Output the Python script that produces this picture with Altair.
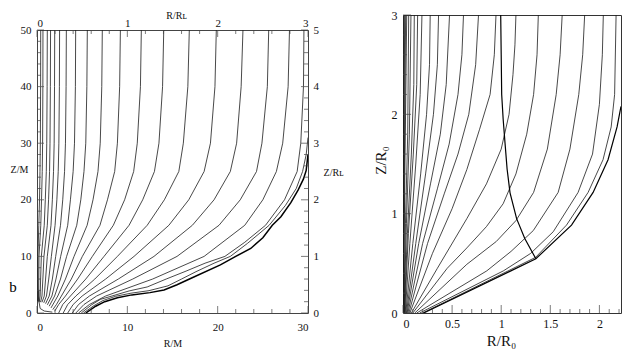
import altair as alt
import pandas as pd

FONT = "Liberation Serif"
INK = "#1a1a1a"
AXC = "#444444"
H = 298            # plot height of the right panel (and of the left group)
LEFT_PLOT_H = 283  # visible plot height of the left panel
TOP_GAP = H - LEFT_PLOT_H

# ---------------- left panel (b): field lines, R/M and Z/M ----------------
left_z_levels = [50, 40, 30, 25, 20, 15.5, 10, 6, 3]

line_a_r = [27.95, 27.8, 27.2, 26.5, 25.0, 23.0, 18.5, 12.8, 7.6]
line_a_tail = [(5.8, 1.5), (4.6, 0)]
line_b_r = [25.65, 25.5, 24.9, 24.3, 22.5, 20.15, 15.5, 10.6, 6.6]
line_b_tail = [(5.2, 1.5), (4.3, 0)]
line_c_r = [22.8, 22.6, 22.1, 21.4, 19.6, 17.2, 12.95, 9.0, 5.8]
line_c_tail = [(4.6, 1.5), (3.9, 0)]
line_d_r = [19.85, 19.7, 19.2, 18.5, 16.8, 14.6, 10.74, 7.6, 5.0]
line_d_tail = [(4.0, 1.5), (3.4, 0)]
line_e_r = [16.86, 16.7, 16.2, 15.7, 14.1, 12.2, 8.9, 6.4, 4.3]
line_e_tail = [(3.4, 1.5), (2.9, 0)]
line_f_r = [14.03, 13.9, 13.5, 13.0, 11.7, 10.19, 7.42, 5.4, 3.7]
line_f_tail = [(2.85, 1.5), (2.4, 0)]
line_g_r = [11.55, 11.45, 11.1, 10.7, 9.7, 8.45, 6.13, 4.5, 3.15]
line_g_tail = [(2.4, 1.5), (1.95, 0.3)]
line_h_r = [9.23, 9.15, 8.9, 8.6, 7.8, 6.97, 5.02, 3.8, 2.7]
line_h_tail = [(2.15, 1.5), (1.75, 0.6)]
line_i_r = [7.23, 7.17, 7.0, 6.75, 6.2, 5.55, 4.1, 3.15, 2.3]
line_i_tail = [(1.55, 0.9)]
line_j_r = [5.57, 5.52, 5.4, 5.2, 4.85, 4.4, 3.28, 2.6, 1.95]
line_j_tail = [(1.35, 1.2)]
line_k_r = [4.28, 4.25, 4.15, 4.0, 3.7, 3.4, 2.62, 2.1, 1.65]
line_k_tail = [(1.15, 1.45)]
line_l_r = [3.25, 3.22, 3.15, 3.05, 2.85, 2.6, 2.07, 1.7, 1.35]
line_l_tail = [(0.95, 1.65)]
line_m_r = [2.5, 2.48, 2.42, 2.35, 2.2, 2.0, 1.59, 1.3, 1.05]
line_m_tail = [(0.75, 1.8)]
line_n_r = [1.96, 1.94, 1.9, 1.83, 1.7, 1.55, 1.14, 0.95, 0.8]
line_n_tail = [(0.55, 1.9)]
line_o_r = [1.5, 1.48, 1.44, 1.39, 1.28, 1.14, 0.77, 0.65, 0.55]
line_o_tail = [(0.4, 1.95)]
line_p_r = [1.14, 1.12, 1.08, 1.03, 0.92, 0.8, 0.48, 0.4, 0.35]
line_p_tail = [(0.25, 2.0)]
line_q_r = [0.66, 0.65, 0.62, 0.58, 0.5, 0.42, 0.22, 0.2, 0.18]
line_q_tail = [(0.15, 2.05)]
line_s_r = [0.41, 0.4, 0.37, 0.33, 0.28, 0.2, 0.1, 0.1, 0.09]
line_s_tail = [(0.08, 2.1)]

near_bound_2 = [(4.9, 0), (6.0, 1.4), (7.0, 2.4), (8.3, 3.0), (10.2, 3.9), (12.2, 4.6),
                (14.3, 6.0), (16.5, 7.4), (18.6, 8.8), (20.8, 10), (23.0, 12.5), (25.3, 15.5),
                (27.4, 20), (28.8, 25), (29.2, 30), (29.5, 40), (29.55, 50)]
near_bound_1 = [(5.15, 0), (6.3, 1.3), (7.3, 2.2), (8.7, 2.95), (10.4, 3.5), (12.4, 3.95),
                (14.5, 4.8), (16.0, 6.0), (17.6, 7.3), (19.6, 8.8), (21.4, 10), (23.3, 12.3),
                (25.7, 15.5), (27.5, 19), (28.7, 22), (29.4, 25), (29.8, 28), (30, 31)]
outer_bound = [(5.4, 0), (6.5, 1.2), (7.5, 2.0), (8.9, 2.7), (10.5, 3.2), (12.5, 3.6),
               (14.06, 4.06), (15.5, 5.0), (17, 6.1), (20.3, 8.5), (22, 10), (23.66, 11.4),
               (25, 13.3), (26.05, 15.5), (27, 17), (28.1, 19.5), (28.9, 21.7), (29.5, 23.7),
               (29.8, 25.2), (30, 28)]
horizon = [(0.2, 4.0), (0.22, 2.0), (0.35, 0.8), (0.8, 0.35), (1.7, 0.15)]

left_regular = [
    ("a", line_a_r, line_a_tail), ("b", line_b_r, line_b_tail), ("c", line_c_r, line_c_tail),
    ("d", line_d_r, line_d_tail), ("e", line_e_r, line_e_tail), ("f", line_f_r, line_f_tail),
    ("g", line_g_r, line_g_tail), ("h", line_h_r, line_h_tail), ("i", line_i_r, line_i_tail),
    ("j", line_j_r, line_j_tail), ("k", line_k_r, line_k_tail), ("l", line_l_r, line_l_tail),
    ("m", line_m_r, line_m_tail), ("n", line_n_r, line_n_tail), ("o", line_o_r, line_o_tail),
    ("p", line_p_r, line_p_tail), ("q", line_q_r, line_q_tail), ("s", line_s_r, line_s_tail),
]

left_x_major = [0, 10, 20, 30]
left_x_minor = [2, 4, 6, 8, 12, 14, 16, 18, 22, 24, 26, 28]
left_y_major = [0, 10, 20, 30, 40, 50]
left_y_minor = [2, 4, 6, 8, 12, 14, 16, 18, 22, 24, 26, 28, 32, 34, 36, 38, 42, 44, 46, 48]

# ---------------- right panel: field lines, R/R0 and Z/R0 ----------------
r_line_01 = [(0.20, 0), (1.35, 0.56), (1.665, 0.885), (1.885, 1.214), (2.037, 1.543), (2.12, 1.873), (2.155, 2.2), (2.17, 3.0)]
r_bound = [(0.21, 0), (1.353, 0.546), (1.716, 0.885), (1.936, 1.214), (2.088, 1.543), (2.18, 1.873), (2.22, 2.08)]
r_line_03 = [(0.17, 0), (1.022, 0.424), (1.30, 0.6), (1.53, 0.818), (1.783, 1.214), (1.93, 1.6), (2.0, 2.1), (2.03, 2.6), (2.04, 3.0)]
r_line_04 = [(0.14, 0), (0.853, 0.424), (1.10, 0.62), (1.327, 0.83), (1.58, 1.214), (1.70, 1.65), (1.79, 2.2), (1.83, 2.6), (1.85, 3.0)]
r_line_05 = [(0.12, 0), (0.65, 0.49), (0.95, 0.72), (1.15, 0.93), (1.33, 1.214), (1.47, 1.65), (1.56, 2.2), (1.60, 2.6), (1.621, 3.0)]
r_line_06 = [(0.10, 0), (0.45, 0.45), (0.65, 0.655), (0.85, 0.87), (1.02, 1.1), (1.15, 1.4), (1.26, 1.8), (1.33, 2.2), (1.365, 2.6), (1.378, 3.0)]
r_line_07 = [(0.085, 0), (0.35, 0.45), (0.65, 0.95), (0.85, 1.3), (1.0, 1.65), (1.08, 2.0), (1.12, 2.4), (1.14, 2.7), (1.15, 3.0)]
r_line_08 = [(0.07, 0), (0.3, 0.6), (0.5, 1.05), (0.65, 1.444), (0.78, 1.85), (0.887, 2.2), (0.93, 2.6), (0.947, 3.0)]
r_line_09 = [(0.06, 0), (0.25, 0.7), (0.42, 1.2), (0.56, 1.6), (0.67, 2.0), (0.74, 2.5), (0.769, 3.0)]
r_line_10 = [(0.05, 0), (0.2, 0.7), (0.35, 1.25), (0.47, 1.7), (0.56, 2.2), (0.6, 2.6), (0.616, 3.0)]
r_line_11 = [(0.042, 0), (0.16, 0.7), (0.28, 1.3), (0.38, 1.8), (0.44, 2.3), (0.474, 3.0)]
r_line_12 = [(0.035, 0), (0.13, 0.7), (0.23, 1.4), (0.31, 2.0), (0.35, 2.5), (0.362, 3.0)]
r_line_13 = [(0.028, 0), (0.1, 0.7), (0.18, 1.4), (0.24, 2.0), (0.27, 2.5), (0.277, 3.0)]
r_line_14 = [(0.022, 0), (0.07, 0.7), (0.13, 1.5), (0.175, 2.2), (0.193, 3.0)]
r_line_15 = [(0.017, 0), (0.055, 0.8), (0.105, 1.6), (0.14, 2.3), (0.149, 3.0)]
r_line_16 = [(0.013, 0), (0.045, 0.8), (0.085, 1.6), (0.11, 2.3), (0.115, 3.0)]
r_line_17 = [(0.01, 0), (0.035, 0.9), (0.065, 1.8), (0.081, 3.0)]
r_line_18 = [(0.008, 0), (0.025, 0.9), (0.048, 1.8), (0.058, 3.0)]
r_axis_1 = [(0.005, 0), (0.02, 1.5), (0.038, 3.0)]
r_axis_2 = [(0.004, 0), (0.014, 1.5), (0.027, 3.0)]
r_axis_3 = [(0.003, 0), (0.009, 1.5), (0.017, 3.0)]
r_axis_4 = [(0.002, 0), (0.005, 1.5), (0.009, 3.0)]
r_light_surface = [(0.995, 3.0), (1.0, 2.6), (1.005, 2.2), (1.02, 1.95), (1.039, 1.71), (1.06, 1.45),
                   (1.09, 1.21), (1.157, 0.95), (1.24, 0.75), (1.353, 0.546)]

right_x_major = [0, 0.5, 1, 1.5, 2]
right_x_minor = [0.1, 0.2, 0.3, 0.4, 0.6, 0.7, 0.8, 0.9, 1.1, 1.2, 1.3, 1.4, 1.6, 1.7, 1.8, 1.9, 2.1, 2.2]
right_y_major = [0, 1, 2, 3]
right_y_minor = [0.2, 0.4, 0.6, 0.8, 1.2, 1.4, 1.6, 1.8, 2.2, 2.4, 2.6, 2.8]


def frame(named):
    rows = []
    for name, pts in named:
        for i, (r, z) in enumerate(pts):
            rows.append({"line": name, "o": i, "R": r, "Z": z})
    return pd.DataFrame(rows)


left_thin_named = []
for name, rs, tail in left_regular:
    left_thin_named.append((name, list(zip(rs, left_z_levels)) + tail))
left_thin_named += [("nb2", near_bound_2), ("nb1", near_bound_1), ("hz", horizon)]
left_thick_named = [("bound", outer_bound)]

right_thin_named = [(f"r{i}", pts) for i, pts in enumerate([
    r_line_01, r_line_03, r_line_04, r_line_05, r_line_06, r_line_07, r_line_08, r_line_09,
    r_line_10, r_line_11, r_line_12, r_line_13, r_line_14, r_line_15, r_line_16, r_line_17,
    r_line_18, r_axis_1, r_axis_2, r_axis_3, r_axis_4])]
right_thick_named = [("bound", r_bound), ("lc", r_light_surface)]

# ---------------- scales ----------------
xl = alt.Scale(domain=[0, 30], nice=False, zero=False)
yl = alt.Scale(domain=[0, 50], nice=False, zero=False, range=[H, TOP_GAP])
xr = alt.Scale(domain=[0, 2.22], nice=False, zero=False)
yr = alt.Scale(domain=[0, 3], nice=False, zero=False)


def xticks(vals, ydat, size, off, xs, ys):
    return alt.Chart(pd.DataFrame({"v": vals})).mark_tick(
        orient="vertical", size=size, thickness=1, yOffset=off, color=AXC
    ).encode(x=alt.X("v:Q", scale=xs, axis=None), y=alt.YDatum(ydat, scale=ys, axis=None))


def yticks(vals, xdat, size, off, xs, ys):
    return alt.Chart(pd.DataFrame({"v": vals})).mark_tick(
        orient="horizontal", size=size, thickness=1, xOffset=off, color=AXC
    ).encode(y=alt.Y("v:Q", scale=ys, axis=None), x=alt.XDatum(xdat, scale=xs, axis=None))


# ---------------- left panel ----------------
left_lines = alt.Chart(frame(left_thin_named)).mark_line(color=INK, strokeWidth=0.8, clip=True).encode(
    x=alt.X("R:Q", scale=xl, axis=alt.Axis(
        values=left_x_major, format="d", ticks=False, grid=False, domainColor=AXC, domainWidth=1,
        labelFontSize=11, labelPadding=8, title="R/M", titleFontSize=10,
        titleY=30, titleBaseline="middle")),
    y=alt.Y("Z:Q", scale=yl, axis=alt.Axis(
        values=left_y_major, format="d", ticks=False, grid=False, domainColor=AXC, domainWidth=1,
        labelFontSize=11, labelPadding=6, title="Z/M", titleFontSize=10, titleAngle=0,
        titleX=-18, titleY=154, titleAlign="center", titleBaseline="middle")),
    detail="line:N", order="o:Q",
)
left_bound = alt.Chart(frame(left_thick_named)).mark_line(color="#000000", strokeWidth=1.5, clip=True).encode(
    x=alt.X("R:Q", scale=xl, axis=None), y=alt.Y("Z:Q", scale=yl, axis=None),
    detail="line:N", order="o:Q",
)
left_ax2 = alt.Chart(pd.DataFrame({"R": [0, 30], "Z": [0, 50]})).mark_point(opacity=0).encode(
    x=alt.X("R:Q", scale=xl, axis=alt.Axis(
        orient="top", offset=-TOP_GAP, values=left_x_major, labelExpr="datum.value / 10",
        ticks=False, grid=False, domainColor=AXC, domainWidth=1, labelFontSize=11, labelPadding=2,
        title="R/Rʟ", titleFontSize=10, titleX=139, titleY=-15, titleBaseline="middle")),
    y=alt.Y("Z:Q", scale=yl, axis=alt.Axis(
        orient="right", values=left_y_major, labelExpr="datum.value / 10",
        ticks=False, grid=False, domainColor=AXC, domainWidth=1, labelFontSize=11, labelPadding=5,
        title="Z/Rʟ", titleFontSize=10, titleAngle=0, titleX=25, titleY=157,
        titleAlign="center", titleBaseline="middle")),
)
left_label = alt.Chart(pd.DataFrame({"t": ["b"]})).mark_text(
    font=FONT, fontSize=15, align="center", baseline="middle", color="#000000"
).encode(text="t:N", x=alt.value(-24), y=alt.value(272))

left_ticks = [
    xticks(left_x_minor, 0, 4, -2, xl, yl), xticks(left_x_major, 0, 7, -3.5, xl, yl),
    xticks(left_x_minor, 50, 4, 2, xl, yl), xticks(left_x_major, 50, 7, 3.5, xl, yl),
    yticks(left_y_minor, 0, 4, 2, xl, yl), yticks(left_y_major, 0, 7, 3.5, xl, yl),
    yticks(left_y_minor, 30, 4, -2, xl, yl), yticks(left_y_major, 30, 7, -3.5, xl, yl),
]

left = alt.layer(left_lines, left_bound, left_ax2, *left_ticks, left_label).resolve_axis(
    x="independent", y="independent"
).properties(width=271, height=H, view=alt.ViewBackground(stroke="transparent"))

# ---------------- right panel ----------------
right_lines = alt.Chart(frame(right_thin_named)).mark_line(color=INK, strokeWidth=0.8, clip=True).encode(
    x=alt.X("R:Q", scale=xr, axis=alt.Axis(
        values=right_x_major, format="~g", ticks=False, grid=False, domain=False,
        labelFontSize=12, labelPadding=5, title="R/R₀", titleFontSize=15,
        titleX=98, titleY=27, titleBaseline="middle")),
    y=alt.Y("Z:Q", scale=yr, axis=alt.Axis(
        values=right_y_major, format="d", ticks=False, grid=False, domain=False,
        labelFontSize=12, labelPadding=6, title="Z/R₀", titleFontSize=15, titleAngle=270,
        titleX=-23, titleY=145, titleAlign="center", titleBaseline="middle")),
    detail="line:N", order="o:Q",
)
right_thick = alt.Chart(frame(right_thick_named)).mark_line(color="#000000", strokeWidth=1.2, clip=True).encode(
    x=alt.X("R:Q", scale=xr, axis=None), y=alt.Y("Z:Q", scale=yr, axis=None),
    detail="line:N", order="o:Q",
)
right_ticks = [
    xticks(right_x_minor, 0, 4, -2, xr, yr), xticks(right_x_major, 0, 8, -4, xr, yr),
    yticks(right_y_minor, 0, 4, 2, xr, yr), yticks(right_y_major, 0, 8, 4, xr, yr),
]
right = alt.layer(right_lines, right_thick, *right_ticks).resolve_axis(
    x="independent", y="independent"
).properties(width=218, height=H, view=alt.ViewBackground(stroke="#333333", strokeWidth=1))

chart = alt.hconcat(left, right, spacing=28).properties(
    padding={"left": 0, "right": 0, "top": 0, "bottom": 0}, background="white"
).configure_axis(
    labelFont=FONT, titleFont=FONT, titleFontWeight="normal", labelColor="#111111", titleColor="#111111"
)

chart.save("out.html", embed_options={"renderer": "svg", "actions": False})
